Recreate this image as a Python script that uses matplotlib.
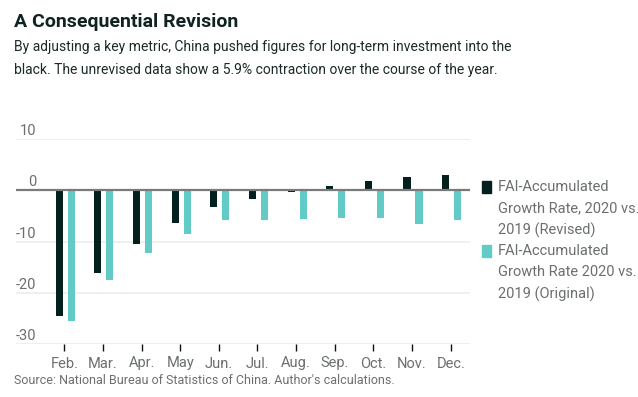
import matplotlib.pyplot as plt
from matplotlib.patches import Rectangle
import matplotlib.transforms as mtransforms
import numpy as np

months = ["Feb.", "Mar.", "Apr.", "May", "Jun.", "Jul.", "Aug.", "Sep.", "Oct.", "Nov.", "Dec."]
revised = [-24.5, -16.1, -10.5, -6.4, -3.2, -1.7, -0.4, 0.8, 1.8, 2.6, 2.9]
original = [-25.6, -17.5, -12.2, -8.5, -5.9, -5.8, -5.6, -5.4, -5.4, -6.6, -5.9]
y_ticks = [10, 0, -10, -20, -30]
labels = ["FAI-Accumulated\nGrowth Rate, 2020 vs.\n2019 (Revised)",
          "FAI-Accumulated\nGrowth Rate 2020 vs.\n2019 (Original)"]

dark = "#03201f"
teal = "#62cbc5"
gray = "#6b6f70"

plt.rcParams['font.family'] = ['Roboto', 'DejaVu Sans']

W, H = 638, 397
fig = plt.figure(figsize=(W / 100, H / 100), dpi=100)
ax = fig.add_axes([16 / W, 1 - 344 / H, (470 - 16) / W, (344 - 139) / H])

x = np.arange(len(months))
bw = 0.185
ax.bar(x - 0.13, revised, width=bw, color=dark, zorder=3)
ax.bar(x + 0.18, original, width=bw, color=teal, zorder=3)

ax.set_xlim(-1.25, len(months) - 0.5)
ax.set_ylim(-30, 10)

# gridlines
for t in y_ticks:
    if t == 0:
        ax.axhline(t, color="#7a7a7a", lw=1.6, zorder=4)
    else:
        ax.axhline(t, color="#efefef", lw=1.4, zorder=1)

# y labels sit above gridlines
off = mtransforms.offset_copy(ax.get_yaxis_transform(), fig=fig, x=0, y=8, units='dots')
for t in y_ticks:
    ax.text(0.045, t, str(t), transform=off, ha='right', va='center',
            fontsize=10.5, color=gray)

ax.set_yticks([])
ax.set_xticks(x)
ax.set_xticklabels(months, fontsize=10.5, color=gray)
ax.tick_params(axis='x', length=5, width=1, color="#111111", pad=4)
for s in ax.spines.values():
    s.set_visible(False)

# titles
fig.text(14 / W, 1 - 22 / H, "A Consequential Revision", fontsize=14, fontweight='bold',
         color="#0f2322", va='center')
fig.text(14 / W, 1 - 58.5 / H,
         "By adjusting a key metric, China pushed figures for long-term investment into the\n"
         "black. The unrevised data show a 5.9% contraction over the course of the year.",
         fontsize=10, color="#1d2a2a", va='center', linespacing=1.85)
fig.text(14 / W, 1 - 381 / H, "Source: National Bureau of Statistics of China. Author's calculations.",
         fontsize=9, color=gray, va='center')

# legend
for i, (lab, col) in enumerate(zip(labels, [dark, teal])):
    ytop = 181 + i * 64
    fig.patches.append(Rectangle((482 / W, 1 - (ytop + 12) / H), 9 / W, 12 / H,
                                 transform=fig.transFigure, color=col))
    fig.text(498 / W, 1 - (ytop - 1) / H, lab, fontsize=10.5, color=gray,
             va='top', linespacing=1.62)

fig.savefig("out.png", dpi=100)
